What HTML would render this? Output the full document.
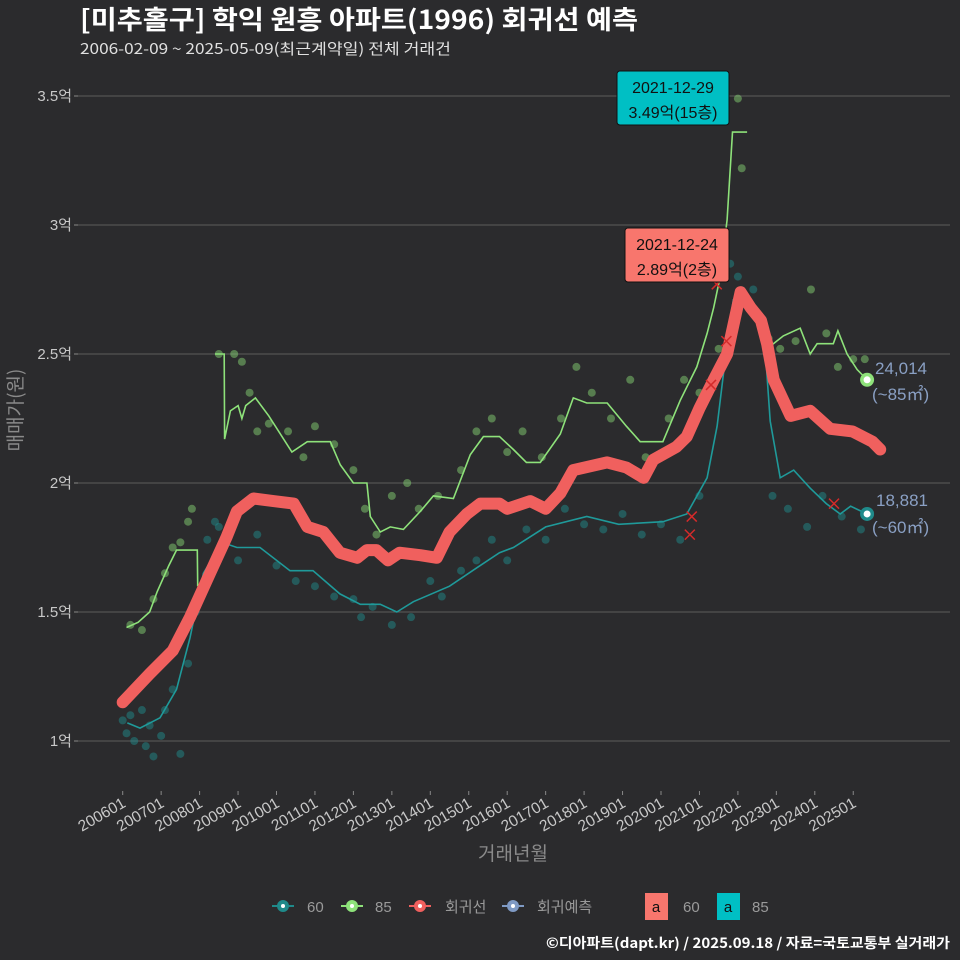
<!DOCTYPE html>
<html><head><meta charset="utf-8">
<style>
html,body{margin:0;padding:0;background:#2b2b2d;}
svg{display:block;font-family:"Liberation Sans","Noto Sans CJK KR",sans-serif;}
</style></head>
<body>
<svg id="chart" width="960" height="960" viewBox="0 0 960 960">
<rect width="960" height="960" fill="#2b2b2d"/>
<text x="80" y="29" font-size="26" font-weight="bold" fill="#ffffff" textLength="558" lengthAdjust="spacingAndGlyphs" font-family="'Noto Sans CJK KR',sans-serif">[미추홀구] 학익 원흥 아파트(1996) 회귀선 예측</text>
<text x="80" y="54" font-size="15" fill="#e0e0e0" textLength="371" lengthAdjust="spacingAndGlyphs" font-family="'Noto Sans CJK KR',sans-serif">2006-02-09 ~ 2025-05-09(최근계약일) 전체 거래건</text>
<g id="grid"></g>
<g id="yticks"></g>
<g id="xticks"></g>
<g id="scatter"></g>
<g id="lines"></g>
<g id="marks"></g>
<text transform="translate(22,410) rotate(-90)" text-anchor="middle" font-size="19" fill="#8a8a8a" font-family="'Noto Sans CJK KR',sans-serif">매매가(원)</text>
<text x="513" y="860" text-anchor="middle" font-size="19" fill="#8a8a8a" font-family="'Noto Sans CJK KR',sans-serif">거래년월</text>

<g>
<rect x="617" y="71" width="112" height="54" rx="3" fill="#00bfc4" stroke="#111" stroke-width="1"/>
<text x="673" y="93" text-anchor="middle" font-size="16" fill="#111">2021-12-29</text>
<text x="673" y="118" text-anchor="middle" font-size="16" fill="#111" font-family="'Liberation Sans','Noto Sans CJK KR',sans-serif">3.49억(15층)</text>
</g>
<g>
<rect x="625" y="228" width="104" height="54" rx="3" fill="#f8766d" stroke="#111" stroke-width="1"/>
<text x="677" y="250" text-anchor="middle" font-size="16" fill="#111">2021-12-24</text>
<text x="677" y="275" text-anchor="middle" font-size="16" fill="#111" font-family="'Liberation Sans','Noto Sans CJK KR',sans-serif">2.89억(2층)</text>
</g>
<g>
<text x="875" y="374" font-size="17" fill="#8aa0c4">24,014</text>
<text x="872" y="400" font-size="17" fill="#8aa0c4" font-family="'Liberation Sans','Noto Sans CJK KR',sans-serif">(~85㎡)</text>
</g>
<g>
<text x="876" y="506" font-size="17" fill="#8aa0c4">18,881</text>
<text x="872" y="533" font-size="17" fill="#8aa0c4" font-family="'Liberation Sans','Noto Sans CJK KR',sans-serif">(~60㎡)</text>
</g>

<g font-size="15" fill="#9a9a9a" font-family="'Liberation Sans','Noto Sans CJK KR',sans-serif">
<g><line x1="272" y1="906" x2="294" y2="906" stroke="#1f8a8a" stroke-width="2"/><circle cx="283" cy="906" r="6" fill="#1f8a8a"/><circle cx="283" cy="906" r="2" fill="#fff"/><text x="307" y="912">60</text></g>
<g><line x1="341" y1="906" x2="363" y2="906" stroke="#8ee27a" stroke-width="2"/><circle cx="352" cy="906" r="6" fill="#8ee27a"/><circle cx="352" cy="906" r="2" fill="#fff"/><text x="375" y="912">85</text></g>
<g><line x1="409" y1="906" x2="431" y2="906" stroke="#f0605e" stroke-width="2"/><circle cx="420" cy="906" r="6" fill="#f0605e"/><circle cx="420" cy="906" r="2" fill="#fff"/><text x="445" y="912">회귀선</text></g>
<g><line x1="502" y1="906" x2="524" y2="906" stroke="#7f9ac4" stroke-width="2"/><circle cx="513" cy="906" r="6" fill="#7f9ac4"/><circle cx="513" cy="906" r="2" fill="#fff"/><text x="537" y="912">회귀예측</text></g>
<g><rect x="645" y="893" width="23" height="27" fill="#f8766d"/><text x="656" y="912" text-anchor="middle" fill="#111">a</text><text x="683" y="912">60</text></g>
<g><rect x="717" y="893" width="23" height="27" fill="#00bfc4"/><text x="728" y="912" text-anchor="middle" fill="#111">a</text><text x="752" y="912">85</text></g>
</g>
<text x="950" y="948" text-anchor="end" font-size="14" font-weight="bold" fill="#ffffff" textLength="404" lengthAdjust="spacingAndGlyphs" font-family="'Noto Sans CJK KR',sans-serif">©디아파트(dapt.kr) / 2025.09.18 / 자료=국토교통부 실거래가</text>
</svg>
<script>
const yTicks = [1, 1.5, 2, 2.5, 3, 3.5];
const yTickLabels = ["1억", "1.5억", "2억", "2.5억", "3억", "3.5억"];
const xTickYears = [2006,2007,2008,2009,2010,2011,2012,2013,2014,2015,2016,2017,2018,2019,2020,2021,2022,2023,2024,2025];
const xTickLabels = ["200601","200701","200801","200901","201001","201101","201201","201301","201401","201501","201601","201701","201801","201901","202001","202101","202201","202301","202401","202501"];

const regT = [2006.0,2006.7,2007.3,2007.75,2008.27,2008.7,2008.97,2009.4,2009.92,2010.45,2010.8,2011.22,2011.65,2012.1,2012.35,2012.6,2012.9,2013.2,2013.74,2014.17,2014.5,2014.95,2015.3,2015.8,2016.0,2016.6,2017.0,2017.38,2017.72,2018.6,2019.1,2019.55,2019.8,2020.4,2020.67,2021.0,2021.37,2021.72,2022.07,2022.33,2022.6,2022.76,2022.93,2023.37,2023.88,2024.4,2024.98,2025.5,2025.7];
const regV = [1.15,1.26,1.35,1.48,1.65,1.79,1.89,1.94,1.93,1.92,1.83,1.81,1.73,1.71,1.74,1.74,1.70,1.73,1.72,1.71,1.81,1.88,1.92,1.92,1.90,1.93,1.90,1.96,2.05,2.08,2.06,2.02,2.09,2.14,2.18,2.29,2.40,2.50,2.74,2.68,2.63,2.54,2.40,2.26,2.28,2.21,2.20,2.16,2.13];

const s85T = [2006.1,2006.4,2006.7,2006.9,2007.2,2007.4,2007.8,2007.94,2007.95,null,2008.4,2008.64,2008.65,2008.8,2009.0,2009.1,2009.2,2009.45,2009.8,2010.4,2010.8,2011.4,2011.66,2012.0,2012.35,2012.44,2012.7,2012.96,2013.3,2013.74,2014.08,2014.6,2015.04,2015.38,2015.8,2016.16,2016.5,2016.86,2017.38,2017.72,2018.07,2018.6,2019.1,2019.46,2020.05,2020.5,2020.93,2021.2,2021.37,2021.54,2021.72,2021.86,2022.24,null,2022.84,2023.18,2023.62,2023.88,2024.06,2024.48,2024.6,2024.84,2025.1,2025.36];
const s85V = [1.44,1.46,1.50,1.58,1.68,1.74,1.74,1.74,1.60,null,2.50,2.50,2.17,2.28,2.30,2.25,2.30,2.33,2.26,2.12,2.16,2.16,2.07,2.00,2.00,1.87,1.81,1.83,1.82,1.89,1.95,1.94,2.11,2.18,2.18,2.13,2.08,2.08,2.19,2.33,2.31,2.31,2.22,2.16,2.16,2.32,2.45,2.58,2.68,2.80,3.02,3.36,3.36,null,2.53,2.57,2.60,2.50,2.54,2.54,2.59,2.50,2.44,2.40];

const s60T = [2006.12,2006.45,2006.97,2007.4,2007.75,2008.1,2008.58,2008.97,2009.57,2010.35,2010.95,2011.65,2012.18,2012.7,2013.13,2013.56,2014.5,2015.2,2015.8,2016.16,2017.0,2018.07,2018.9,2020.05,2020.67,2021.2,2021.46,2021.72,2021.88,2022.24,2022.67,2022.84,2023.1,2023.45,2023.88,2024.3,2024.66,2024.93,2025.36];
const s60V = [1.07,1.05,1.09,1.20,1.40,1.65,1.77,1.75,1.75,1.66,1.66,1.57,1.53,1.53,1.50,1.54,1.60,1.67,1.73,1.75,1.83,1.87,1.84,1.85,1.88,2.02,2.22,2.54,2.71,2.71,2.60,2.24,2.02,2.05,1.98,1.92,1.88,1.91,1.88];

const pts60T = [2006.0,2006.1,2006.2,2006.3,2006.5,2006.6,2006.7,2006.8,2007.0,2007.1,2007.3,2007.5,2007.7,2007.9,2008.2,2008.4,2008.5,2009.0,2009.5,2010.0,2010.5,2011.0,2011.5,2012.0,2012.2,2012.5,2013.0,2013.5,2014.0,2014.3,2014.8,2015.2,2015.6,2016.0,2016.5,2017.0,2017.5,2018.0,2018.5,2019.0,2019.5,2020.0,2020.5,2021.0,2021.8,2022.0,2022.4,2022.9,2023.3,2023.8,2024.2,2024.7,2025.2];
const pts60V = [1.08,1.03,1.10,1.00,1.12,0.98,1.06,0.94,1.02,1.12,1.20,0.95,1.30,1.50,1.78,1.85,1.83,1.70,1.80,1.68,1.62,1.60,1.56,1.55,1.48,1.52,1.45,1.48,1.62,1.56,1.66,1.70,1.78,1.70,1.82,1.78,1.90,1.84,1.82,1.88,1.80,1.84,1.78,1.95,2.85,2.80,2.75,1.95,1.90,1.83,1.95,1.87,1.82];
const pts85T = [2006.2,2006.5,2006.8,2007.1,2007.3,2007.5,2007.7,2007.8,2008.5,2008.9,2009.1,2009.3,2009.5,2009.8,2010.3,2010.7,2011.0,2011.5,2012.0,2012.3,2012.6,2013.0,2013.4,2013.7,2014.2,2014.8,2015.2,2015.6,2016.0,2016.4,2016.9,2017.4,2017.8,2018.2,2018.7,2019.2,2019.6,2020.2,2020.6,2021.0,2021.5,2022.0,2022.1,2022.8,2023.1,2023.5,2023.9,2024.3,2024.6,2025.0,2025.3];
const pts85V = [1.45,1.43,1.55,1.65,1.75,1.77,1.85,1.90,2.50,2.50,2.47,2.35,2.20,2.23,2.20,2.10,2.22,2.15,2.05,1.90,1.80,1.95,2.00,1.90,1.95,2.05,2.20,2.25,2.12,2.20,2.10,2.25,2.45,2.35,2.25,2.40,2.10,2.25,2.40,2.35,2.52,3.49,3.22,2.56,2.52,2.55,2.75,2.58,2.45,2.48,2.48];

const xMarkT = [2020.8,2020.75,2021.3,2021.7,2021.45,2024.5];
const xMarkV = [1.87,1.80,2.38,2.55,2.77,1.92];

const endT = [2025.36, 2025.36];
const endV = [2.40, 1.88];
const endColors = ["#8ee27a", "#1f8a8a"];

const NS = "http://www.w3.org/2000/svg";
function xs(t){ return 122.7 + (t - 2006) * 38.45; }
function ys(v){ return 741 - (v - 1) * 258; }
function mk(tag, attrs, parent){ const e=document.createElementNS(NS,tag); for(const k in attrs) e.setAttribute(k,attrs[k]); parent.appendChild(e); return e; }

const grid=document.getElementById('grid'), yt=document.getElementById('yticks'), xt=document.getElementById('xticks');
yTicks.forEach((v,i)=>{
  const l=mk('line',{x1:78,x2:950,y1:ys(v),y2:ys(v),stroke:'#5c5c5c','stroke-width':1},grid);
  
  
  const tk=mk('line',{x1:74,x2:78,y1:ys(v),y2:ys(v),stroke:'#888'},yt);
  
  
  const t=mk('text',{x:72,y:ys(v)+5,'text-anchor':'end','font-size':15,fill:'#c8c8c8'},yt);
  
  
  t.textContent=yTickLabels[i];
});
xTickYears.forEach((yr,i)=>{
  const x=xs(yr);
  const tk=mk('line',{x1:x,x2:x,y1:791,y2:795,stroke:'#888'},xt);
  
  
  const t=mk('text',{transform:`translate(${x+4},${806}) rotate(-30)`,'text-anchor':'end','font-size':15.5,fill:'#c8c8c8'},xt);
  
  
  t.textContent=xTickLabels[i];
});

const sc=document.getElementById('scatter');
pts60T.forEach((t,i)=>{
  const c=mk('circle',{cx:xs(t),cy:ys(pts60V[i]),r:4,fill:'#1f8a8a','fill-opacity':0.5},sc);
  
  
});
pts85T.forEach((t,i)=>{
  const c=mk('circle',{cx:xs(t),cy:ys(pts85V[i]),r:4,fill:'#8ee27a','fill-opacity':0.45},sc);
  
  
});

function pathOf(T,V){
  let d='',start=true;
  for(let i=0;i<T.length;i++){
    if(T[i]===null){start=true;continue;}
    d+=(start?'M':'L')+xs(T[i]).toFixed(1)+','+ys(V[i]).toFixed(1);
    start=false;
  }
  return d;
}
const ln=document.getElementById('lines');
const p60=mk('path',{d:pathOf(s60T,s60V),fill:'none',stroke:'#1f9a9a','stroke-width':1.6},ln);


const p85=mk('path',{d:pathOf(s85T,s85V),fill:'none',stroke:'#8ee27a','stroke-width':1.6},ln);


const pr=mk('path',{d:pathOf(regT,regV),fill:'none',stroke:'#f0605e','stroke-width':12,'stroke-linecap':'round','stroke-linejoin':'round'},ln);



const mkG=document.getElementById('marks');
xMarkT.forEach((t,i)=>{
  const x=xs(t),y=ys(xMarkV[i]);
  const p=mk('path',{d:`M${x-5},${y-5}L${x+5},${y+5}M${x-5},${y+5}L${x+5},${y-5}`,stroke:'#d42a2a','stroke-width':1.5},mkG);
  
  
});
endT.forEach((t,i)=>{
  const c=mk('circle',{cx:xs(t),cy:ys(endV[i]),r:7,fill:endColors[i]},mkG);
  
  
  const c2=mk('circle',{cx:xs(t),cy:ys(endV[i]),r:3.5,fill:'#ffffff'},mkG);
  
  
});
</script>
</body></html>
